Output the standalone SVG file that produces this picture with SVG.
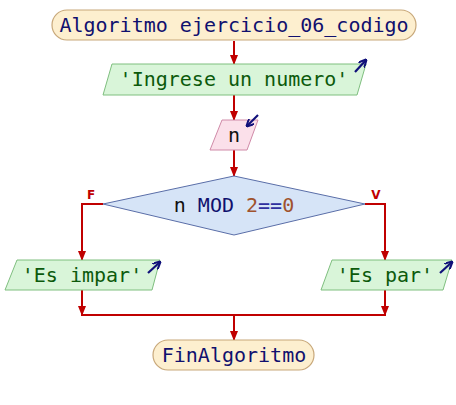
<svg xmlns="http://www.w3.org/2000/svg" width="456" height="405" viewBox="0 0 456 405">
<style>
.t{font-family:"DejaVu Sans Mono",monospace;font-size:20px;text-anchor:middle}
.term{fill:#fdefcf;stroke:#c8a87a;stroke-width:1.2}
.out{fill:#d9f5d9;stroke:#7fbf7f;stroke-width:1}
.in{fill:#fbe0ea;stroke:#d08aa8;stroke-width:1}
.dec{fill:#d6e4f7;stroke:#5a6ea8;stroke-width:1}
.c{fill:none;stroke:#c00000;stroke-width:2}
.ic{fill:none;stroke:#10107a;stroke-width:2.2}
.lbl{font-family:"DejaVu Sans",sans-serif;font-size:12px;font-weight:bold;fill:#c00000;text-anchor:middle}
</style>
<defs>
<marker id="a" markerWidth="10" markerHeight="8" refX="9" refY="4" orient="auto" markerUnits="userSpaceOnUse">
<path d="M0,0 L10,4 L0,8 Z" fill="#c00000"/>
</marker>
<marker id="b" markerWidth="8" markerHeight="8" refX="7" refY="4" orient="auto" markerUnits="userSpaceOnUse">
<path d="M0,0 L8,4 L0,8" fill="none" stroke="#10107a" stroke-width="2"/>
</marker>
</defs>
<g id="connectors">
<line class="c" x1="234" y1="41" x2="234" y2="64" marker-end="url(#a)"/>
<line class="c" x1="234" y1="95" x2="234" y2="120" marker-end="url(#a)"/>
<line class="c" x1="234" y1="150" x2="234" y2="176" marker-end="url(#a)"/>
<polyline class="c" points="103,204 82,204 82,260" marker-end="url(#a)"/>
<polyline class="c" points="365,204 385,204 385,260" marker-end="url(#a)"/>
<line class="c" x1="82" y1="290" x2="82" y2="315" marker-end="url(#a)"/>
<line class="c" x1="385" y1="290" x2="385" y2="315" marker-end="url(#a)"/>
<line class="c" x1="81" y1="315" x2="386" y2="315"/>
<line class="c" x1="234" y1="315" x2="234" y2="340" marker-end="url(#a)"/>
<text class="lbl" x="91" y="199">F</text>
<text class="lbl" x="376" y="199">V</text>
</g>
<g id="start">
<rect class="term" x="52" y="10" width="364" height="30" rx="15"/>
<text class="t" x="234" y="32" fill="#10106e">Algoritmo ejercicio_06_codigo</text>
</g>
<g id="out1">
<polygon class="out" points="112,64 366,64 357,95 103,95"/>
<text class="t" x="234" y="86" fill="#0c5a0c">'Ingrese un numero'</text>
<line class="ic" x1="355" y1="72" x2="366" y2="60" marker-end="url(#b)"/>
</g>
<g id="in1">
<polygon class="in" points="222,120 258,120 247,150 210,150"/>
<text class="t" x="234" y="142" fill="#111">n</text>
<line class="ic" x1="258" y1="115" x2="247" y2="126" marker-end="url(#b)"/>
</g>
<g id="dec">
<polygon class="dec" points="234,176 365,204 234,235 103,204"/>
<text class="t" x="234" y="212"><tspan fill="#111">n </tspan><tspan fill="#10106e">MOD </tspan><tspan fill="#a0522d">2</tspan><tspan fill="#3030a0">==</tspan><tspan fill="#a0522d">0</tspan></text>
</g>
<g id="out2">
<polygon class="out" points="17,260 160,260 152,290 5,290"/>
<text class="t" x="82" y="282" fill="#0c5a0c">'Es impar'</text>
<line class="ic" x1="148" y1="273" x2="160" y2="262" marker-end="url(#b)"/>
</g>
<g id="out3">
<polygon class="out" points="332,260 452,260 443,290 321,290"/>
<text class="t" x="385" y="282" fill="#0c5a0c">'Es par'</text>
<line class="ic" x1="440" y1="273" x2="452" y2="262" marker-end="url(#b)"/>
</g>
<g id="end">
<rect class="term" x="153" y="340" width="161" height="30" rx="15"/>
<text class="t" x="234" y="362" fill="#10106e">FinAlgoritmo</text>
</g>
</svg>
